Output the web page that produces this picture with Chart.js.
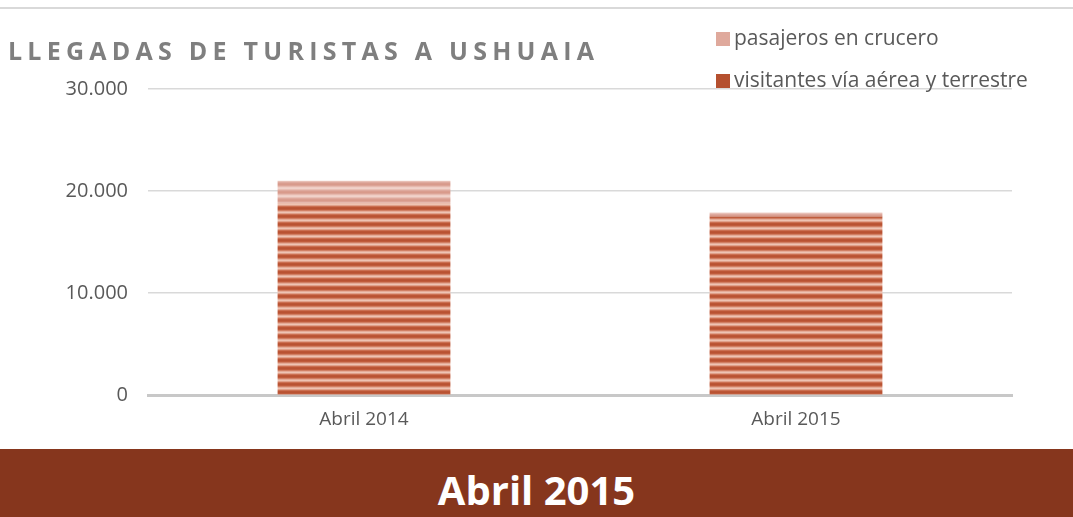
<!DOCTYPE html>
<html>
<head>
<meta charset="utf-8">
<script src="https://cdn.jsdelivr.net/npm/chart.js@4"></script>
<style>
  body { margin: 0; width: 1073px; height: 517px; background: #fff; overflow: hidden; font-family: "Open Sans", sans-serif; }
  #wrap { position: relative; width: 1073px; height: 449px; }
  #chartContainer { position: absolute; left: 0; top: 0; }
  #topline { position: absolute; left: 0; top: 7px; width: 1073px; height: 2px; background: #d9d9d9; }
  #title { position: absolute; left: 8px; top: 33px; font-size: 25px; font-weight: bold; letter-spacing: 5.25px; color: #7f7f7f; white-space: nowrap; }
  .leg { position: absolute; left: 716px; font-size: 21px; color: #595959; white-space: nowrap; }
  .leg span { display: inline-block; width: 14px; height: 14px; margin-right: 4px; vertical-align: -1px; }
  #banner { position: absolute; left: 0; top: 449px; width: 1073px; height: 68px; background: #86361d; color: #fff; font-size: 40px; font-weight: bold; text-align: center; line-height: 82px; }
</style>
</head>
<body>
<div id="wrap">
  <canvas id="chartContainer" width="1073" height="449"></canvas>
  <div id="topline"></div>
  <div id="title">LLEGADAS DE TURISTAS A USHUAIA</div>
  <div class="leg" style="top:23px"><span style="background:#dfa99c"></span>pasajeros en crucero</div>
  <div class="leg" style="top:65px"><span style="background:#b5502f"></span>visitantes vía aérea y terrestre</div>
</div>
<div id="banner">Abril 2015</div>
<script>
"use strict";

// 1: data
let months = ['Abril 2014', 'Abril 2015'];
let visitantes = [18800, 17500];
let crucero = [2200, 400];
let yTicks = [0, 10000, 20000, 30000];

// striped fill like the original
function stripes(colors) {
  let c = document.createElement('canvas');
  c.width = 1;
  c.height = colors.length;
  let ctx = c.getContext('2d');
  colors.forEach((col, i) => {
    ctx.fillStyle = col;
    ctx.fillRect(0, i, 1, 1);
  });
  return ctx.createPattern(c, 'repeat');
}

let darkFill = stripes(['#b85233', '#c05c3c', '#d07f64', '#e5ab97', '#eec3b3', '#e0a08a', '#cb6f51', '#bc5636']);
let lightFill = stripes(['#d89a8b', '#dca497', '#e6b9ae', '#efcdc5', '#f0d2ca', '#e8bfb5', '#dea99d', '#d99d8f']);

function fmt(v) {
  return v.toString().replace(/\B(?=(\d{3})+(?!\d))/g, '.');
}

// 2: chart
let chart = new Chart(document.getElementById('chartContainer'), {
  type: 'bar',
  data: {
    labels: months,
    datasets: [{
      label: 'visitantes vía aérea y terrestre',
      data: visitantes,
      backgroundColor: darkFill
    },
    {
      label: 'pasajeros en crucero',
      data: crucero,
      backgroundColor: lightFill
    }]
  },
  options: {
    responsive: false,
    animation: false,
    layout: { padding: { top: 89, right: 61, bottom: 13, left: 0 } },
    plugins: { legend: { display: false }, tooltip: { enabled: false } },
    datasets: { bar: { categoryPercentage: 1, barPercentage: 0.4 } },
    scales: {
      x: {
        stacked: true,
        grid: { display: false },
        border: { color: '#c8c8c8', width: 3 },
        ticks: { color: '#595959', font: { family: 'Open Sans', size: 19 }, padding: 5 }
      },
      y: {
        stacked: true,
        min: 0,
        max: 30000,
        afterFit: (s) => { s.width = 148; },
        afterBuildTicks: (s) => { s.ticks = yTicks.map(v => ({ value: v })); },
        grid: { color: '#d9d9d9', lineWidth: 1.5, drawTicks: false },
        border: { display: false },
        ticks: { color: '#595959', font: { family: 'Open Sans', size: 20 }, padding: 20, callback: fmt }
      }
    }
  }
});
</script>
</body>
</html>
